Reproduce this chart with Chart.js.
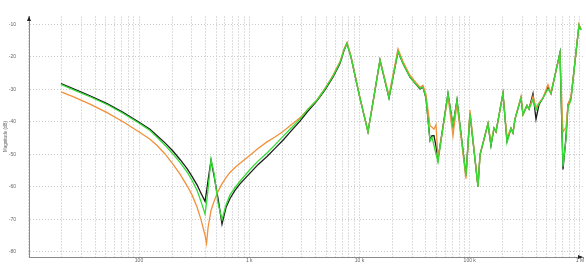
<!DOCTYPE html>
<html>
<head>
<meta charset="utf-8">
<script src="https://cdn.jsdelivr.net/npm/chart.js@4.4.1/dist/chart.umd.min.js"></script>
<style>
  html, body { margin: 0; padding: 0; background: #ffffff; }
  #wrap { width: 586px; height: 273px; position: relative; }
</style>
</head>
<body>
<div id="wrap"><canvas id="c" width="586" height="273"></canvas></div>
<script>
// Frequency (Hz)
const freqHz = [19.6, 25.2, 35.9, 51.3, 71.6, 102, 125.8, 146, 172.1, 203, 235.5, 273, 302.5, 336, 365, 397, 410, 423, 450, 479, 521, 566, 615, 669, 742.5, 824, 1016, 1200, 1449, 1712, 2023, 2391, 2886, 3411, 4117, 4865, 5747, 6654, 7234, 7701, 8374, 10100, 11940, 13530, 15340,
  18520, 22350, 24810, 28710, 32540, 35380, 37670, 40110, 43600, 45460, 47400, 49420, 51520, 63480, 70490, 76630, 92470, 100500, 118800, 123900, 146400, 155800, 166000, 173000, 200200, 217700, 236700, 246800, 257300, 291700, 304100, 330600, 344700, 374700, 399000, 424800, 461800, 512600, 545800, 593200, 658600, 701200, 746400, 778400, 828800, 900800, 979300, 1021000];

// Magnitude (dB) per series
const blackDb = [-28.3, -29.8, -32.0, -34.4, -37.1, -40.3, -42.3, -44.3, -46.5, -49.0, -51.6, -54.4, -56.8, -59.4, -62.0, -64.5, -61.4, -58.0, -51.8, -56.6, -63.6, -71.5, -66.4, -63.6, -61.1, -59.1, -55.8, -53.2, -50.7, -48.2, -45.7, -42.9, -39.8, -36.7, -33.6, -30.2, -26.3, -22.1, -18.1, -15.9, -20.1, -32.7, -43.1, -32.2, -21.0,
  -32.7, -18.4, -22.1, -26.3, -28.5, -29.9, -29.4, -32.7, -45.7, -44.3, -44.3, -47.6, -51.6, -31.3, -41.2, -33.3, -56.6, -37.5, -60.0, -50.2, -40.6, -47.3, -42.0, -43.1, -31.3, -45.9, -42.0, -43.4, -39.2, -32.7, -37.8, -35.0, -36.1, -31.3, -39.2, -34.7, -32.7, -29.4, -31.3, -25.7, -18.7, -54.7, -44.8, -34.7, -32.7, -21.5, -10.3, -11.7];

const greenDb = [-28.5, -30.1, -32.3, -34.7, -37.4, -40.6, -42.7, -44.8, -47.2, -49.9, -52.5, -55.5, -58.0, -61.1, -64.5, -68.4, -64.8, -60.8, -51.6, -55.8, -65.0, -70.1, -65.6, -62.5, -60.3, -58.3, -54.7, -52.1, -49.6, -47.1, -44.5, -42.0, -39.2, -36.1, -33.3, -29.9, -26.0, -21.8, -17.9, -15.9, -20.1, -32.7, -43.1, -32.2, -21.0,
  -32.7, -18.4, -22.1, -26.3, -28.5, -29.7, -29.4, -32.7, -45.9, -44.8, -47.3, -49.9, -52.4, -31.3, -41.2, -33.3, -56.6, -37.5, -60.0, -50.2, -40.6, -47.3, -42.0, -43.1, -31.3, -46.5, -42.0, -43.4, -39.2, -32.7, -37.8, -35.0, -36.1, -33.3, -36.4, -34.4, -32.7, -29.9, -31.3, -25.7, -18.7, -53.8, -45.4, -35.6, -33.3, -21.5, -10.3, -11.7];

const orangeDb = [-30.8, -32.3, -34.6, -37.2, -40.0, -43.3, -45.4, -47.3, -49.9, -53.0, -56.1, -59.7, -62.5, -66.2, -70.1, -74.9, -77.4, -72.6, -67.3, -64.5, -61.4, -59.1, -57.2, -55.6, -54.1, -52.8, -50.3, -48.2, -46.2, -44.7, -43.0, -41.0, -38.8, -36.1, -33.3, -29.7, -25.7, -21.5, -17.6, -15.6, -19.8, -32.7, -43.1, -32.2, -21.0,
  -31.9, -17.6, -21.5, -25.7, -28.0, -29.4, -28.8, -31.6, -41.2, -41.7, -42.3, -40.9, -51.3, -32.2, -44.3, -34.4, -57.5, -36.4, -60.0, -50.2, -40.6, -46.2, -42.0, -43.1, -31.3, -44.8, -42.0, -43.4, -39.2, -32.2, -37.8, -35.0, -36.1, -32.2, -35.6, -34.2, -32.7, -28.5, -31.3, -25.7, -19.3, -43.1, -41.7, -34.7, -32.2, -21.5, -10.0, -11.7];

// Axes
const yTickValues = [-80, -70, -60, -50, -40, -30, -20, -10];
const xDecades = [100, 1000, 10000, 100000, 1000000];
const xDecadeLabels = ["100", "1 k", "10 k", "100 k", "1 M"];
const yTitle = "Magnitude (dB)";

const toPts = arr => freqHz.map((f, i) => ({ x: f, y: arr[i] }));

// grid ticks: 1..9 x each decade
const xGridValues = [];
for (let d = 10; d <= 1000000; d *= 10) {
  for (let m = 1; m <= 9; m++) {
    const v = d * m;
    if (v <= 1000000) xGridValues.push(v);
  }
}

const arrows = {
  id: 'arrows',
  afterDraw(chart) {
    const { ctx, chartArea: a } = chart;
    ctx.save();
    ctx.fillStyle = '#222';
    ctx.beginPath();
    ctx.moveTo(a.left, a.top);
    ctx.lineTo(a.left - 2, a.top + 5);
    ctx.lineTo(a.left + 2, a.top + 5);
    ctx.closePath();
    ctx.fill();
    ctx.beginPath();
    ctx.moveTo(a.right, a.bottom);
    ctx.lineTo(a.right - 5, a.bottom - 2);
    ctx.lineTo(a.right - 5, a.bottom + 2);
    ctx.closePath();
    ctx.fill();
    ctx.restore();
  }
};

const font = { family: "'Liberation Sans', Arial, sans-serif", size: 5 };

new Chart(document.getElementById('c'), {
  type: 'line',
  data: {
    datasets: [
      { label: 'black', data: toPts(blackDb), borderColor: '#1c1c1c', borderWidth: 1.3, pointRadius: 0, order: 3 },
      { label: 'orange', data: toPts(orangeDb), borderColor: '#f2913a', borderWidth: 1.3, pointRadius: 0, order: 2 },
      { label: 'green', data: toPts(greenDb), borderColor: '#34dc34', borderWidth: 1.3, pointRadius: 0, order: 1 }
    ]
  },
  options: {
    responsive: false,
    animation: false,
    devicePixelRatio: 1,
    layout: { padding: { left: 0, right: 3, top: 0, bottom: 0 } },
    plugins: { legend: { display: false }, tooltip: { enabled: false } },
    elements: { line: { tension: 0 } },
    scales: {
      x: {
        type: 'logarithmic',
        min: 10.05,
        max: 1065000,
        afterBuildTicks: s => { s.ticks = xGridValues.map(v => ({ value: v })); },
        afterFit: s => { s.height = 9; },
        grid: { color: '#dedede', lineWidth: 1, drawTicks: false },
        border: { color: '#8a8a8a', width: 1, dash: [2, 1] },
        ticks: {
          autoSkip: false,
          maxRotation: 0,
          padding: 1,
          color: '#666',
          font: font,
          callback: v => {
            const i = xDecades.indexOf(v);
            return i >= 0 ? xDecadeLabels[i] : '';
          }
        }
      },
      y: {
        type: 'linear',
        min: -81.6,
        max: -7.47,
        afterBuildTicks: s => { s.ticks = yTickValues.map(v => ({ value: v })); },
        afterFit: s => { s.width = 29; },
        grid: { color: '#cccccc', lineWidth: 1, drawTicks: false },
        border: { color: '#8a8a8a', width: 1, dash: [1, 2] },
        ticks: { padding: 13, color: '#666', font: font, callback: v => String(v) },
        title: { display: true, text: yTitle, color: '#666', font: { family: font.family, size: 4.5 }, padding: { top: 3, bottom: 0 } }
      }
    }
  },
  plugins: [arrows]
});
</script>
</body>
</html>
